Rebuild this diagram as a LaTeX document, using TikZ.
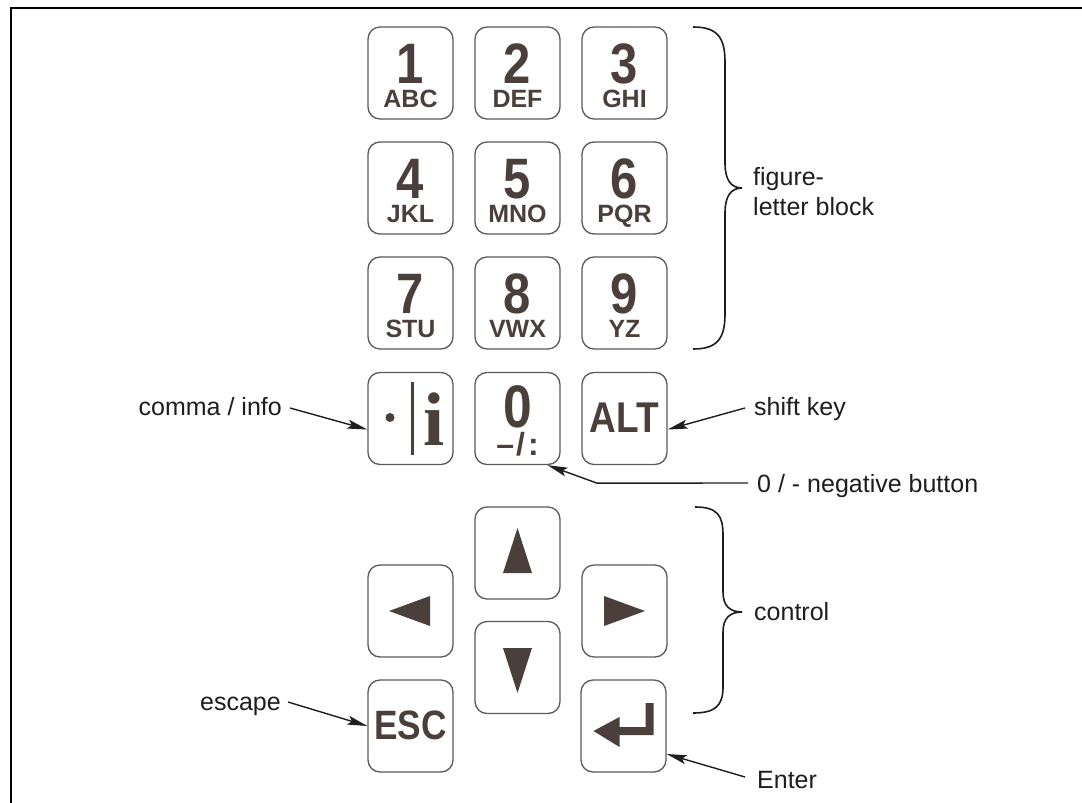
\documentclass[tikz,border=0pt]{standalone}
\usepackage{fontspec}
\setmainfont{Liberation Sans}
\newfontfamily\keyfont[FakeStretch=0.86]{Liberation Sans}
\newfontfamily\serifkey{Liberation Serif}
\usetikzlibrary{arrows.meta,calc}
\definecolor{glyph}{HTML}{4A3F3B}
\definecolor{ink}{HTML}{1E1E1E}
\definecolor{keyline}{HTML}{5A5A5A}
\begin{document}
\begin{tikzpicture}[x=1pt,y=-1pt,
  key/.style={draw=keyline, line width=1.3pt, rounded corners=12pt, minimum width=85pt, minimum height=92pt, inner sep=0pt},
  big/.style={text=glyph, font=\keyfont\bfseries\fontsize{57}{57}\selectfont, anchor=base, inner sep=0pt, text height=0.72em, text depth=0pt},
  small/.style={text=glyph, font=\bfseries\fontsize{25}{25}\selectfont, anchor=base, inner sep=0pt, text height=0.72em, text depth=0pt},
  lbl/.style={text=ink, font=\fontsize{25}{30}\selectfont, inner sep=0pt},
  callout/.style={draw=ink, line width=1.4pt, -{Stealth[length=20pt,width=9pt,inset=4pt]}},
  brace/.style={draw=ink, line width=1.6pt},
  tri/.style={fill=glyph, draw=none}]
\useasboundingbox (0,0) rectangle (1082,803);
\fill[white] (0,0) rectangle (1082,803);
% frame
\draw[line width=2.5pt, black] (11,810) -- (11,8) -- (1090,8);

% keys
\node[key] (k1) at (410.5,73) {};
\node[key] (k2) at (517.5,73) {};
\node[key] (k3) at (624.5,73) {};
\node[key] (k4) at (410.5,188) {};
\node[key] (k5) at (517.5,188) {};
\node[key] (k6) at (624.5,188) {};
\node[key] (k7) at (410.5,303) {};
\node[key] (k8) at (517.5,303) {};
\node[key] (k9) at (624.5,303) {};
\node[key] (kinfo) at (410.5,418.5) {};
\node[key] (k0) at (517.5,418.5) {};
\node[key] (kalt) at (624.5,418.5) {};
\node[key] (kup) at (517.5,553) {};
\node[key] (kleft) at (410.5,611) {};
\node[key] (kright) at (624.5,611) {};
\node[key] (kdown) at (517.5,667.5) {};
\node[key] (kesc) at (410.5,726) {};
\node[key] (kenter) at (623.5,726) {};

% key labels
\foreach \k/\d/\l in {k1/1/ABC, k2/2/DEF, k3/3/GHI, k4/4/JKL, k5/5/MNO, k6/6/PQR, k7/7/STU, k8/8/VWX, k9/9/YZ}{
  \node[big] (\k d) at ($(\k.north)+(0,57)$) {\d};
  \node[small] (\k l) at ($(\k.north)+(0,81)$) {\l};
}
\node[big, font=\keyfont\bfseries\fontsize{60}{60}\selectfont] (k0d) at ($(k0.north)+(0,56)$) {0};
\node[small, font=\bfseries\fontsize{32}{32}\selectfont] (k0l) at ($(k0.north)+(0,84)$) {–\kern2pt/\kern3pt:};
\node[big, font=\keyfont\bfseries\fontsize{43}{43}\selectfont] (kaltl) at ($(kalt.north)+(0,61)$) {ALT};
\node[big, font=\keyfont\bfseries\fontsize{41}{41}\selectfont] (kescl) at ($(kesc.north)+(0,60)$) {ESC};

% info key glyph
\fill[glyph] ($(kinfo.center)+(-20.5,-1)$) circle (4.5pt);
\fill[glyph] ($(kinfo.center)+(0,-37)$) rectangle ($(kinfo.center)+(3.5,36)$);
\node[text=glyph, font=\serifkey\bfseries\fontsize{76}{76}\selectfont, anchor=base, inner sep=0pt] (kinfoi) at ($(kinfo.center)+(23.5,26.5)$) {i};

% arrow triangles
\fill[tri] ($(kup.center)+(0,-25)$) -- ($(kup.center)+(14.5,20)$) -- ($(kup.center)+(-14.5,20)$) -- cycle;
\fill[tri] ($(kdown.center)+(0,25.5)$) -- ($(kdown.center)+(14.5,-19.5)$) -- ($(kdown.center)+(-14.5,-19.5)$) -- cycle;
\fill[tri] ($(kleft.center)+(-21.5,0)$) -- ($(kleft.center)+(19.5,-15)$) -- ($(kleft.center)+(19.5,15)$) -- cycle;
\fill[tri] ($(kright.center)+(20.5,0)$) -- ($(kright.center)+(-20.5,-15)$) -- ($(kright.center)+(-20.5,15)$) -- cycle;

% enter glyph
\fill[tri] ($(kenter.center)+(22,-23)$) -- ($(kenter.center)+(30,-23)$) -- ($(kenter.center)+(30,9)$) -- ($(kenter.center)+(-4,9)$) -- ($(kenter.center)+(-4,21)$) -- ($(kenter.center)+(-30,5)$) -- ($(kenter.center)+(-4,-9)$) -- ($(kenter.center)+(-4,1)$) -- ($(kenter.center)+(22,1)$) -- cycle;

% labels
\node[lbl, anchor=base east] (lcomma) at (282,415) {comma / info};
\node[lbl, anchor=base west] (lshift) at (754,415) {shift key};
\node[lbl, anchor=base west] (lneg) at (757,492) {0 / - negative button};
\node[lbl, anchor=west, align=left] (lfig) at (753,192) {figure-\\letter block};
\node[lbl, anchor=base west] (lctrl) at (754,620) {control};
\node[lbl, anchor=base east] (lesc) at (281,710) {escape};
\node[lbl, anchor=base west] (lent) at (757,788) {Enter};

% callouts
\draw[callout] ($(lcomma.base east)+(8,-7)$) -- ($(kinfo.west)+(0,11)$);
\draw[callout] ($(lshift.base west)+(-9,-7)$) -- ($(kalt.east)+(0,11)$);
\draw[callout] ($(lneg.base west)+(-9,-9)$) -- ($(k0.south)+(79.5,18)$) -- ($(k0.south)+(30,0)$);
\draw[callout] ($(lent.base west)+(-12,-11)$) -- ($(kenter.east)+(0,28)$);
\draw[callout] ($(lesc.base east)+(7,-8)$) -- (kesc.west);

% braces
\draw[brace] (693,27) .. controls (717,27) and (725,37) .. (725,62) -- (725,163) .. controls (725,180) and (731,188) .. (742,188) .. controls (731,188) and (725,196) .. (725,213) -- (725,314) .. controls (725,339) and (717,349) .. (693,349);
\draw[brace] (695,507) .. controls (717,507) and (723,515) .. (723,535) -- (723,592) .. controls (723,606) and (730,612) .. (742,612) .. controls (730,612) and (723,618) .. (723,632) -- (723,687) .. controls (723,706) and (715,713) .. (693,713);
\end{tikzpicture}
\end{document}
